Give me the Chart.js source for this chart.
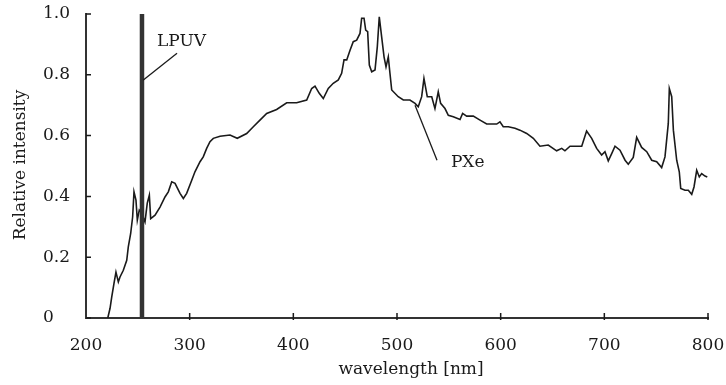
<!DOCTYPE html>
<html>
<head>
<meta charset="utf-8">
<script src="https://cdn.jsdelivr.net/npm/chart.js@4.4.1/dist/chart.umd.min.js"></script>
<style>
  html, body { margin: 0; padding: 0; background: #fff; }
  #wrap { width: 726px; height: 385px; }
</style>
</head>
<body>
<div id="wrap"><canvas id="spectrumChart" width="726" height="385"></canvas></div>
<script>
// --- datos ---
const xTickValues = [200, 300, 400, 500, 600, 700, 800];
const yTickValues = [0, 0.2, 0.4, 0.6, 0.8, 1.0];
const yTickLabels = ['0', '0.2', '0.4', '0.6', '0.8', '1.0'];

// espectro PXe (lámpara de xenón pulsada)
const pxeWavelength = [
    221, 223.2, 224.8, 227.0, 228.9, 231.2, 232.8, 236.0, 239.3, 240.8,
    243.1, 245.0, 246.3, 248.2, 249.5, 251.4, 253.7, 256.9, 259.1, 261.1,
    262.4, 266.6, 271.4, 276.2, 279.4, 282.7, 285.9, 290.7, 293.9, 297.1,
    302.0, 305.1, 310.0, 313.1, 316.4, 319.6, 322.8, 329.3, 338.9, 345.9,
    355.0, 361.4, 367.8, 374.3, 383.9, 393.6, 403.2, 412.9, 417.7, 420.9,
    425.0, 428.9, 433.7, 438.5, 443.4, 446.6, 448.9, 451.5, 454.7, 457.8,
    461.1, 464.3, 465.9, 468.2, 469.8, 471.7, 473.3, 475.6, 478.8, 481.0,
    482.9, 485.2, 487.5, 489.4, 491.6, 493.2, 494.9, 501.2, 506.1, 512.5,
    517.4, 520.5, 523.8, 526.0, 529.2, 533.5, 536.6, 539.8, 542.1, 546.3,
    549.5, 554.3, 560.8, 563.3, 567.2, 573.6, 580.1, 586.5, 596.2, 599.3,
    602.5, 607.4, 613.8, 618.6, 625.1, 631.5, 637.9, 645.9, 654.0, 658.9,
    662.0, 666.9, 678.2, 682.9, 687.8, 692.6, 697.4, 700.6, 703.8, 707.1,
    710.3, 715.1, 720.0, 723.1, 727.9, 731.2, 736.0, 740.9, 745.7, 750.5,
    755.3, 758.5, 761.7, 762.7, 765.0, 766.6, 769.8, 772.3, 773.7, 777.8,
    781.0, 784.3, 786.5, 789.1, 791.6, 793.9, 797.1, 799.3
];
const pxeIntensity = [
    0, 0.032, 0.069, 0.114, 0.151, 0.119, 0.135, 0.157, 0.190, 0.234,
    0.278, 0.333, 0.415, 0.388, 0.322, 0.355, 0.345, 0.316, 0.378, 0.404,
    0.327, 0.338, 0.365, 0.398, 0.415, 0.448, 0.443, 0.410, 0.393, 0.410,
    0.453, 0.481, 0.514, 0.530, 0.558, 0.580, 0.591, 0.598, 0.602, 0.591,
    0.607, 0.629, 0.651, 0.673, 0.686, 0.708, 0.708, 0.717, 0.755, 0.763,
    0.739, 0.722, 0.755, 0.772, 0.783, 0.805, 0.849, 0.849, 0.881, 0.909,
    0.914, 0.936, 0.986, 0.986, 0.947, 0.942, 0.832, 0.810, 0.816, 0.892,
    0.991, 0.925, 0.859, 0.826, 0.859, 0.805, 0.750, 0.728, 0.717, 0.717,
    0.706, 0.695, 0.728, 0.788, 0.728, 0.728, 0.689, 0.744, 0.706, 0.689,
    0.667, 0.662, 0.653, 0.673, 0.664, 0.664, 0.651, 0.638, 0.638, 0.645,
    0.629, 0.629, 0.624, 0.618, 0.607, 0.591, 0.565, 0.569, 0.550, 0.558,
    0.550, 0.565, 0.565, 0.615, 0.591, 0.558, 0.536, 0.547, 0.517, 0.541,
    0.565, 0.552, 0.519, 0.506, 0.528, 0.594, 0.561, 0.547, 0.519, 0.514,
    0.495, 0.530, 0.640, 0.755, 0.728, 0.618, 0.519, 0.481, 0.426, 0.420,
    0.420, 0.407, 0.431, 0.486, 0.464, 0.475, 0.467, 0.464
];

// línea de mercurio de baja presión (LPUV)
const lpuvWavelength = [254, 254];
const lpuvIntensity = [0, 1.0];

// etiquetas y sus líneas guía (en unidades de datos)
const labelLpuv = { text: 'LPUV', x: 268.5, y: 0.908, from: [255, 0.782], to: [287.8, 0.871] };
const labelPxe = { text: 'PXe', x: 552, y: 0.51, from: [517.4, 0.700], to: [538.6, 0.519] };

const FONT = '"DejaVu Serif", "Liberation Serif", serif';
const INK = '#1a1a1a';

// --- plugin: marcas interiores, títulos de ejes y etiquetas ---
const decorations = {
    id: 'decorations',
    afterDatasetsDraw(chart) {
        const { ctx, scales: { x, y } } = chart;
        ctx.save();
        ctx.strokeStyle = INK;
        ctx.lineWidth = 1.5;
        ctx.beginPath();
        xTickValues.slice(1).forEach(v => {
            const px = x.getPixelForValue(v);
            ctx.moveTo(px, y.bottom - 5);
            ctx.lineTo(px, y.bottom + 2);
        });
        yTickValues.forEach(v => {
            const py = y.getPixelForValue(v);
            ctx.moveTo(x.left, py);
            ctx.lineTo(x.left + 5, py);
        });
        ctx.stroke();

        // líneas guía
        ctx.lineWidth = 1.3;
        [labelLpuv, labelPxe].forEach(l => {
            ctx.beginPath();
            ctx.moveTo(x.getPixelForValue(l.from[0]), y.getPixelForValue(l.from[1]));
            ctx.lineTo(x.getPixelForValue(l.to[0]), y.getPixelForValue(l.to[1]));
            ctx.stroke();
        });

        ctx.fillStyle = INK;
        ctx.font = '17px ' + FONT;
        ctx.textBaseline = 'middle';
        ctx.textAlign = 'left';
        [labelLpuv, labelPxe].forEach(l => {
            ctx.fillText(l.text, x.getPixelForValue(l.x), y.getPixelForValue(l.y));
        });

        // títulos de ejes
        ctx.textAlign = 'center';
        ctx.fillText('wavelength [nm]', 411, 370);
        ctx.translate(21, 165);
        ctx.rotate(-Math.PI / 2);
        ctx.fillText('Relative intensity', 0, 0);
        ctx.restore();
    }
};

function createSpectrumChart(ctx) {
    new Chart(ctx, {
        type: 'line',
        data: {
            datasets: [
                {
                    label: 'LPUV borde',
                    data: lpuvWavelength.map((w, i) => ({ x: w, y: lpuvIntensity[i] })),
                    borderColor: '#333',
                    borderWidth: 4.5,
                    pointRadius: 0
                },
                {
                    label: 'LPUV',
                    data: lpuvWavelength.map((w, i) => ({ x: w, y: lpuvIntensity[i] })),
                    borderColor: '#b0b0b0',
                    borderWidth: 1.5,
                    pointRadius: 0
                },
                {
                    label: 'PXe',
                    data: pxeWavelength.map((w, i) => ({ x: w, y: pxeIntensity[i] })),
                    borderColor: INK,
                    borderWidth: 1.6,
                    pointRadius: 0,
                    tension: 0
                }
            ]
        },
        options: {
            responsive: false,
            animation: false,
            layout: { padding: { left: 43, top: 14, right: 0, bottom: 0 } },
            scales: {
                x: {
                    type: 'linear',
                    min: 200,
                    max: 800,
                    afterFit: s => { s.height = 67; s.paddingRight = 18; s.paddingLeft = 0; },
                    afterBuildTicks: s => { s.ticks = xTickValues.map(v => ({ value: v })); },
                    grid: { display: false, drawTicks: false },
                    border: { display: true, color: '#333', width: 2 },
                    ticks: { color: INK, padding: 17, font: { family: FONT, size: 17 } }
                },
                y: {
                    min: 0,
                    max: 1.0,
                    afterFit: s => { s.width = 43; },
                    afterBuildTicks: s => { s.ticks = yTickValues.map(v => ({ value: v })); },
                    grid: { display: false, drawTicks: false },
                    border: { display: true, color: '#333', width: 2 },
                    ticks: {
                        color: INK,
                        crossAlign: 'far',
                        font: { family: FONT, size: 17 },
                        callback: (v) => yTickLabels[yTickValues.indexOf(v)] ?? ''
                    }
                }
            },
            plugins: {
                legend: { display: false },
                tooltip: { enabled: false }
            }
        },
        plugins: [decorations]
    });
}

createSpectrumChart(document.getElementById('spectrumChart').getContext('2d'));
</script>
</body>
</html>
